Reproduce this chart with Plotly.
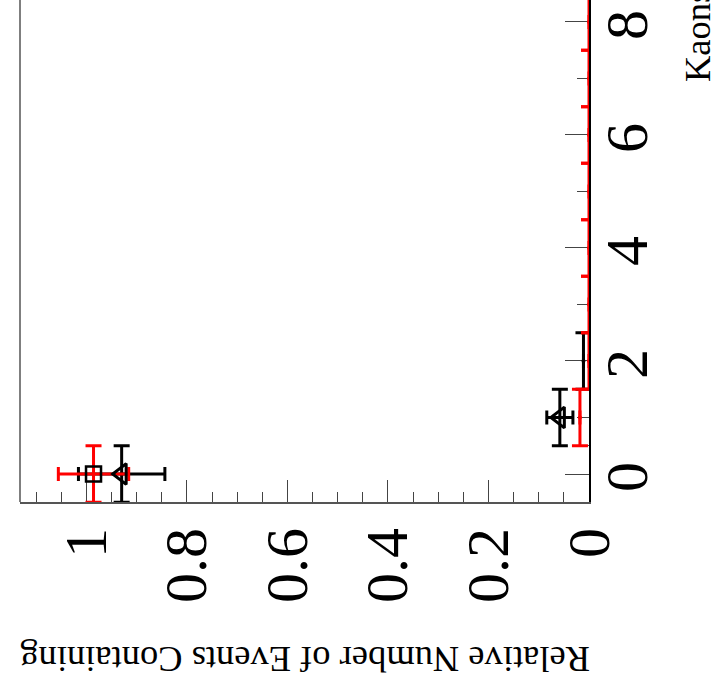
import plotly.graph_objects as go

# Number of kaons per event (bin centres)
kaons_black = [0, 1, 2]
kaons_red = [0, 1, 2, 3, 4, 5, 6, 7, 8]

# Relative number of events containing N kaons, with uncertainties
frac_black = [0.930, 0.058, 0.011]
err_black = [0.086, 0.026, 0.0]
frac_red = [0.986, 0.018, 0.0, 0.0, 0.0, 0.0, 0.0, 0.0, 0.0]
err_red = [0.070, 0.0, 0.0, 0.0, 0.0, 0.0, 0.0, 0.0, 0.0]
bin_half_width = 0.5

# Axis tick labels
frac_ticks = [0, 0.2, 0.4, 0.6, 0.8, 1]
frac_ticktext = ["0", "0.2", "0.4", "0.6", "0.8", "1"]
kaon_ticks = [0, 2, 4, 6, 8]
kaon_ticktext = ["0", "2", "4", "6", "8"]
kaon_half_ticks = [k + 0.5 for k in range(-1, 9)]

SERIF = "Liberation Serif, Times New Roman, serif"

fig = go.Figure()

# black series: error bars with small dots
fig.add_trace(go.Scatter(
    x=frac_black, y=kaons_black, mode="markers",
    marker=dict(color="black", size=4),
    error_x=dict(type="data", array=err_black, color="black", thickness=3, width=7),
    error_y=dict(type="constant", value=bin_half_width, color="black", thickness=3, width=8),
    showlegend=False, hoverinfo="skip",
))

# red series: error bars with small dots
fig.add_trace(go.Scatter(
    x=frac_red, y=kaons_red, mode="markers",
    marker=dict(color="red", size=4),
    error_x=dict(type="data", array=err_red, color="red", thickness=3, width=7),
    error_y=dict(type="constant", value=bin_half_width, color="red", thickness=3, width=8),
    showlegend=False, hoverinfo="skip",
))

# open triangles on the first two black points
fig.add_trace(go.Scatter(
    x=frac_black[:2], y=kaons_black[:2], mode="markers",
    marker=dict(symbol="triangle-left-open", size=18, color="black",
                line=dict(color="black", width=3)),
    showlegend=False, hoverinfo="skip",
))

# open square on the first red point
fig.add_trace(go.Scatter(
    x=frac_red[:1], y=kaons_red[:1], mode="markers",
    marker=dict(symbol="square-open", size=15, color="black",
                line=dict(color="black", width=2.5)),
    showlegend=False, hoverinfo="skip",
))

# invisible trace to activate the half-bin tick axis
fig.add_trace(go.Scatter(x=[None], y=[None], yaxis="y2", showlegend=False,
                         hoverinfo="skip"))

fig.update_layout(
    width=713, height=688,
    margin=dict(l=20, r=124, t=0, b=186),
    paper_bgcolor="white", plot_bgcolor="white",
    font=dict(family=SERIF, color="black"),
    xaxis=dict(
        range=[1.1323, 0],
        tickmode="array", tickvals=frac_ticks, ticktext=frac_ticktext,
        ticks="inside", ticklen=22, tickwidth=1, tickcolor="#444",
        minor=dict(dtick=0.05, tick0=0, ticks="inside", ticklen=10,
                   tickwidth=1, tickcolor="#444", showgrid=False),
        tickangle=-90, tickfont=dict(family=SERIF, size=60, color="black"),
        ticklabeloverflow="allow",
        showline=True, linecolor="#555", linewidth=2,
        showgrid=False, zeroline=False, layer="below traces",
    ),
    yaxis=dict(
        side="right",
        range=[-0.4956, 8.389],
        tickmode="array", tickvals=kaon_ticks, ticktext=kaon_ticktext,
        ticks="inside", ticklen=24, tickwidth=1, tickcolor="#444",
        minor=dict(dtick=1, tick0=0, ticks="inside", ticklen=12,
                   tickwidth=1, tickcolor="#444", showgrid=False),
        tickangle=-90, tickfont=dict(family=SERIF, size=60, color="black"),
        ticklabeloverflow="allow", ticklabelstandoff=-16, ticklabelshift=12,
        showline=True, linecolor="black", linewidth=2,
        showgrid=False, zeroline=False, layer="below traces",
    ),
    yaxis2=dict(
        overlaying="y", side="right", anchor="x",
        range=[-0.4956, 8.389],
        tickmode="array", tickvals=kaon_half_ticks,
        ticks="inside", ticklen=6, tickwidth=1, tickcolor="#444",
        showticklabels=False, showgrid=False, zeroline=False, showline=False,
        layer="below traces",
    ),
    shapes=[dict(type="line", xref="paper", yref="paper", x0=0, x1=0, y0=0, y1=1,
                 line=dict(color="#7f7f7f", width=2))],
    annotations=[
        dict(text="Relative Number of Events Containing", textangle=180,
             xref="paper", yref="paper", x=0.5009, y=(502 - 660) / 502,
             xanchor="center", yanchor="middle", showarrow=False,
             font=dict(family=SERIF, size=36.5, color="black")),
        dict(text="Kaons", textangle=-90,
             xref="paper", yref="paper", x=(697.5 - 20) / 569, y=(502 - 84) / 502,
             xanchor="center", yanchor="bottom", showarrow=False,
             font=dict(family=SERIF, size=36.5, color="black")),
    ],
)

fig.write_html("out.html")
